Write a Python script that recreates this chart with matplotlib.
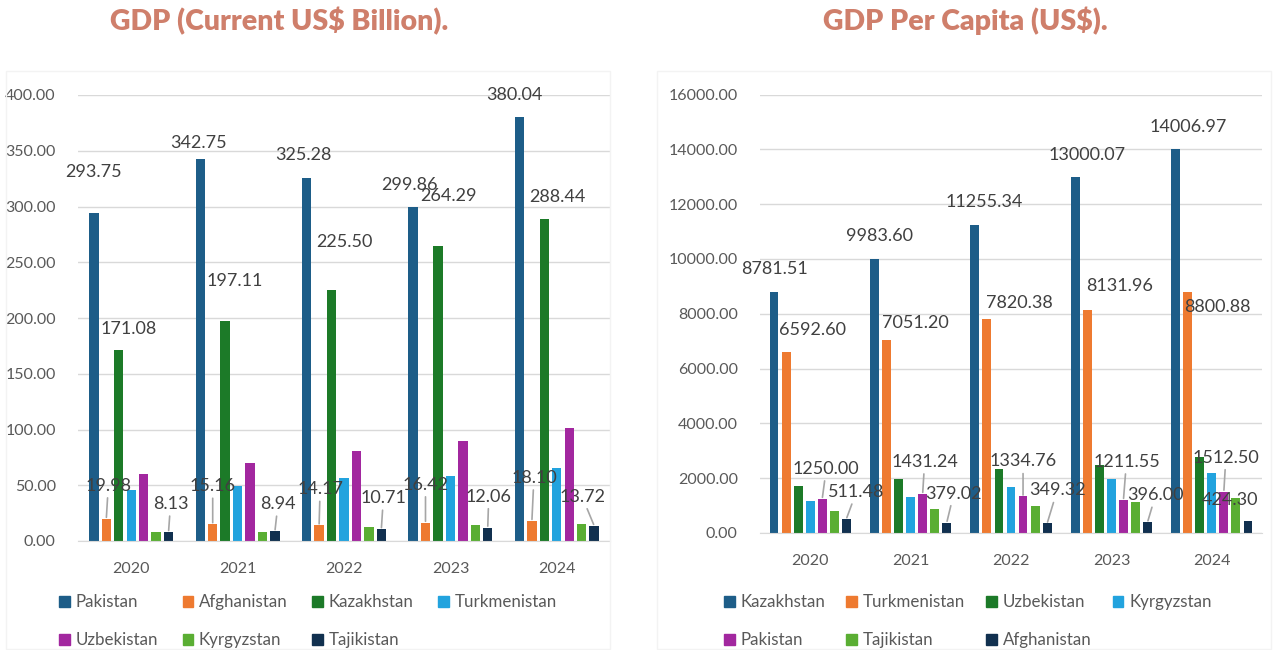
import matplotlib
matplotlib.use("Agg")
import matplotlib.pyplot as plt
import numpy as np

plt.rcParams["font.family"] = ["Lato", "DejaVu Sans"]

years = ["2020", "2021", "2022", "2023", "2024"]

# GDP, current US$ billion
gdp_names = ["Pakistan", "Afghanistan", "Kazakhstan", "Turkmenistan",
             "Uzbekistan", "Kyrgyzstan", "Tajikistan"]
pak_gdp = [293.75, 342.75, 325.28, 299.86, 380.04]
afg_gdp = [19.98, 15.16, 14.17, 16.42, 18.10]
kaz_gdp = [171.08, 197.11, 225.50, 264.29, 288.44]
tkm_gdp = [45.7, 49.0, 56.8, 58.6, 65.7]
uzb_gdp = [60.0, 70.0, 80.7, 90.0, 101.0]
kgz_gdp = [8.3, 8.4, 12.4, 14.3, 15.3]
tjk_gdp = [8.13, 8.94, 10.71, 12.06, 13.72]

# GDP per capita, US$
pc_names = ["Kazakhstan", "Turkmenistan", "Uzbekistan", "Kyrgyzstan",
            "Pakistan", "Tajikistan", "Afghanistan"]
kaz_pc = [8781.51, 9983.60, 11255.34, 13000.07, 14006.97]
tkm_pc = [6592.60, 7051.20, 7820.38, 8131.96, 8800.88]
uzb_pc = [1728, 1972, 2326, 2483, 2765]
kgz_pc = [1180, 1327, 1691, 1961, 2203]
pak_pc = [1250.00, 1431.24, 1334.76, 1211.55, 1512.50]
tjk_pc = [803, 865, 997, 1143, 1267]
afg_pc = [511.48, 379.02, 349.32, 396.00, 424.30]

colors = ["#1d5d88", "#ee7a30", "#1c7a28", "#22a3de",
          "#a2279f", "#5aae33", "#11304f"]

TICK_C = "#595959"
LABEL_C = "#404040"
GRID_C = "#d9d9d9"
TITLE_C = "#cf7f6b"

W, H = 1277, 650
fig = plt.figure(figsize=(W / 100, H / 100), dpi=100)


def px_axes(x0, y0, x1, y1):
    return fig.add_axes([x0 / W, 1 - y1 / H, (x1 - x0) / W, (y1 - y0) / H])


def draw_panel(ax, series, ymax, step, slot, width):
    x = np.arange(len(years))
    for j, vals in enumerate(series):
        ax.bar(x + (j - 3) * slot, vals, width, color=colors[j], zorder=2)
    ax.set_xlim(-0.5, len(years) - 0.5)
    ax.set_ylim(0, ymax)
    ax.set_yticks(np.arange(0, ymax + 1, step))
    ax.yaxis.set_major_formatter(matplotlib.ticker.FormatStrFormatter("%.2f"))
    ax.set_xticks(x)
    ax.set_xticklabels(years)
    ax.grid(axis="y", color=GRID_C, lw=1, zorder=0)
    ax.set_axisbelow(True)
    for s in ["top", "right", "left"]:
        ax.spines[s].set_visible(False)
    ax.spines["bottom"].set_color(GRID_C)
    ax.tick_params(axis="both", length=0, labelcolor=TICK_C, labelsize=11.5)
    ax.tick_params(axis="y", pad=16)
    ax.tick_params(axis="x", pad=15)


def add_labels(ax, vals, j, slot, offsets, leader=False, skip_leader=()):
    for i, v in enumerate(vals):
        dx, dy = offsets[i]
        props = None
        if leader and i not in skip_leader:
            props = dict(arrowstyle="-", color="#a6a6a6", lw=1.2,
                         shrinkA=1, shrinkB=1)
        ax.annotate(f"{v:.2f}", xy=(i + (j - 3) * slot, v),
                    xytext=(dx, dy), textcoords="offset pixels",
                    ha="center", va="center", fontsize=13, color=LABEL_C,
                    arrowprops=props, zorder=4, annotation_clip=False)


# left panel: GDP
ax1 = px_axes(78, 95, 610, 541)
slot1, bw1 = 0.117, 0.088
draw_panel(ax1, [pak_gdp, afg_gdp, kaz_gdp, tkm_gdp, uzb_gdp, kgz_gdp, tjk_gdp],
           400, 50, slot1, bw1)
add_labels(ax1, pak_gdp, 0, slot1, [(0, 41), (-2, 16), (-3, 23), (-4, 22), (-5, 22)])
add_labels(ax1, kaz_gdp, 2, slot1, [(10, 21), (10, 40), (13, 48), (11, 50), (13, 22)])
add_labels(ax1, afg_gdp, 1, slot1, [(2, 33), (0, 38), (1, 36), (0, 38), (2, 43)],
           leader=True)
add_labels(ax1, tjk_gdp, 6, slot1, [(2, 28), (3, 27), (2, 31), (1, 31), (-12, 29)],
           leader=True)

# right panel: GDP per capita
ax2 = px_axes(760, 94.5, 1262, 533)
slot2, bw2 = 0.12, 0.088
draw_panel(ax2, [kaz_pc, tkm_pc, uzb_pc, kgz_pc, pak_pc, tjk_pc, afg_pc],
           16000, 2000, slot2, bw2)
add_labels(ax2, kaz_pc, 0, slot2, [(0, 23), (5, 23), (9, 23), (12, 22), (13, 22)])
add_labels(ax2, tkm_pc, 1, slot2, [(26, 22), (29, 17), (32, 16), (32, 24), (30, -15)])
add_labels(ax2, pak_pc, 4, slot2, [(4, 30), (2, 32), (0, 35), (3, 38), (2, 34)],
           leader=True)
add_labels(ax2, afg_pc, 6, slot2, [(10, 27), (7, 29), (10, 33), (8, 27), (-18, 21)],
           leader=True, skip_leader=(4,))

# titles
fig.text(279 / W, 1 - 21 / H, "GDP (Current US$ Billion).", ha="center", va="center",
         fontsize=20.5, fontweight="heavy", color=TITLE_C)
fig.text(965 / W, 1 - 21 / H, "GDP Per Capita (US$).", ha="center", va="center",
         fontsize=20.5, fontweight="heavy", color=TITLE_C)

# faint panel frames
for x0, x1 in [(6, 610), (657, 1271)]:
    fig.add_artist(plt.Rectangle((x0 / W, 0.002), (x1 - x0) / W, 1 - 72 / H,
                                 transform=fig.transFigure, fill=False,
                                 ec="#f3f3f3", lw=1))


# legends, filled row by row
def add_legend(names, x0, spacing):
    order = [0, 4, 1, 5, 2, 6, 3]
    handles = [plt.Rectangle((0, 0), 1, 1, color=colors[k]) for k in order]
    leg = fig.legend(handles, [names[k] for k in order], ncol=4, loc="upper left",
                     bbox_to_anchor=(x0 / W, 1 - 594 / H), frameon=False,
                     fontsize=12.2, handlelength=0.62, handleheight=0.62,
                     handletextpad=0.35, columnspacing=spacing, labelspacing=1.3,
                     borderpad=0, borderaxespad=0)
    for t in leg.get_texts():
        t.set_color(TICK_C)


add_legend(gdp_names, 59, 1.45)
add_legend(pc_names, 724, 1.25)

fig.savefig("out.png", dpi=100, facecolor="white")
